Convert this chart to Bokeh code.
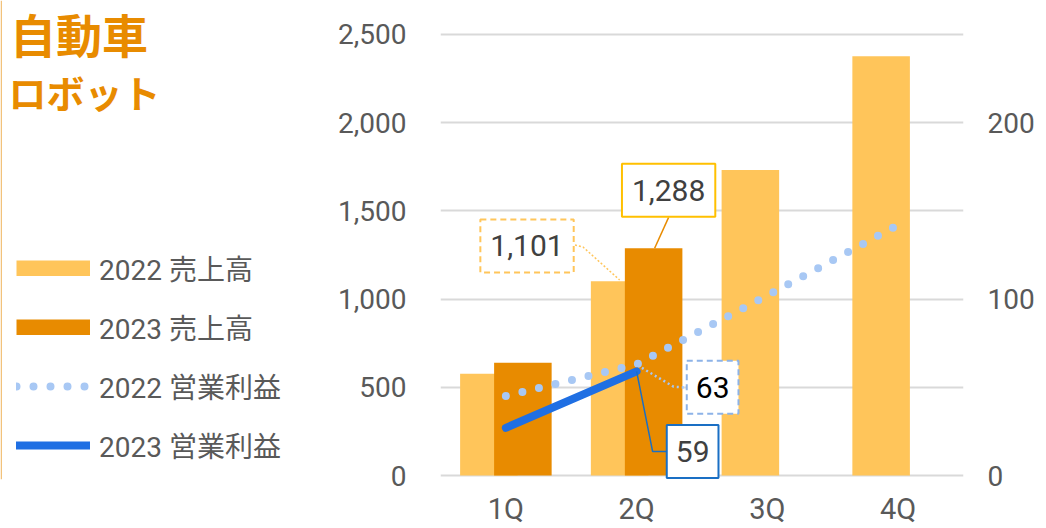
from bokeh.plotting import figure
from bokeh.layouts import row
from bokeh.models import (Range1d, LinearAxis, FixedTicker, Label, Legend, LegendItem,
                          NumeralTickFormatter, Span)
from bokeh.embed import file_html
from bokeh.resources import INLINE

# ---------------- data ----------------
quarters = ["1Q", "2Q", "3Q", "4Q"]
sales_2022 = [577, 1101, 1731, 2376]
sales_2023 = [639, 1288]
op_2022 = [45, 63, 102, 142]
op_2023 = [27, 59]
left_ticks = [0, 500, 1000, 1500, 2000, 2500]
right_ticks = [0, 100, 200]
series_names = ["2022 売上高", "2023 売上高", "2022 営業利益", "2023 営業利益"]
title_lines = ["自動車", "ロボット"]

# ---------------- style ----------------
FONT = "Roboto, 'Noto Sans CJK JP', sans-serif"
CJK = "'Noto Sans CJK JP', sans-serif"
C22 = "#FFC55A"
C23 = "#E88B00"
B22 = "#A8C8F4"
B23 = "#1F6FE3"
GREY = "#595959"
DARK = "#404040"
BAR_W = 0.44
DODGE = 0.13
DOTS = "0 17"
NAN = float("nan")

# scale helpers (pixels -> data units)
PX_X = 523 / 4.0
PX_Y = 442 / 2500.0
PX_Y2 = 442 / 250.0
Y0 = -4 / PX_Y
Y1 = 2500 + 34 / PX_Y
BOTTOM = 48
H = 528

# ---------------- main chart ----------------
p = figure(width=731, height=H, x_range=Range1d(-0.5, 3.5), y_range=Range1d(Y0, Y1),
           output_backend="svg", toolbar_location=None,
           min_border_left=130, min_border_right=78, min_border_top=0, min_border_bottom=BOTTOM)
p.extra_y_ranges = {"op": Range1d(Y0 / 10.0, Y1 / 10.0)}
p.outline_line_color = None
p.xgrid.visible = False
p.ygrid.ticker = FixedTicker(ticks=left_ticks)
p.ygrid.grid_line_color = "#D9D9D9"
p.ygrid.grid_line_width = 2

def off(x, y, dx, dy, sy):
    return x + dx / PX_X, y + dy / sy

xa = p.xaxis[0]
xa.ticker = FixedTicker(ticks=list(range(len(quarters))))
xa.major_label_overrides = {i: q for i, q in enumerate(quarters)}
ya = p.yaxis[0]
ya.ticker = FixedTicker(ticks=left_ticks)
ya.formatter = NumeralTickFormatter(format="0,0")
ra = LinearAxis(y_range_name="op", ticker=FixedTicker(ticks=right_ticks))
p.add_layout(ra, "right")
for ax in (xa, ya, ra):
    ax.axis_line_color = None
    ax.major_tick_line_color = None
    ax.minor_tick_line_color = None
    ax.major_label_text_font = FONT
    ax.major_label_text_color = GREY
    ax.major_label_text_font_size = "28px"
xa.major_label_text_font_size = "29px"
xa.major_label_standoff = 6
ya.major_label_standoff = 28
ra.major_label_standoff = 18

# bars
idx22 = list(range(len(sales_2022)))
idx23 = list(range(len(sales_2023)))
r1 = p.vbar(x=[i - DODGE for i in idx22], top=sales_2022, width=BAR_W,
            fill_color=C22, line_color=None)
r2 = p.vbar(x=[i + DODGE for i in idx23], top=sales_2023, width=BAR_W,
            fill_color=C23, line_color=None)

# leader: 1,288
ax0, ay0 = 1 + DODGE, sales_2023[1]
pts = [off(ax0, ay0, 15, 31, PX_Y), off(ax0, ay0, 1, 0, PX_Y)]
p.line([q[0] for q in pts], [q[1] for q in pts], line_color=C23, line_width=1.5)
# leader: 1,101
bx0, by0 = 1 - DODGE, sales_2022[1]
pts = [off(bx0, by0, -44.6, 36.3, PX_Y), off(bx0, by0, -36.6, 34.3, PX_Y), off(bx0, by0, 0, 1.3, PX_Y)]
p.line([q[0] for q in pts], [q[1] for q in pts], line_color=C22, line_width=1.5, line_dash="2 2")

# operating profit lines
r3 = p.line(x=list(range(len(op_2022))), y=op_2022, y_range_name="op", line_color=B22,
            line_width=8, line_dash=DOTS, line_cap="round")
cx0, cy0 = 1, op_2022[1]
pts = [off(cx0, cy0, 1, -1, PX_Y2), off(cx0, cy0, 37, -22.4, PX_Y2), off(cx0, cy0, 50, -23.4, PX_Y2)]
p.line([q[0] for q in pts], [q[1] for q in pts], y_range_name="op", line_color=B22,
       line_width=2.5, line_dash="2 3")
r4 = p.line(x=list(range(len(op_2023))), y=op_2023, y_range_name="op", line_color=B23,
            line_width=8, line_cap="round")
dx0, dy0 = 1, op_2023[1]
pts = [off(dx0, dy0, 0, 0, PX_Y2), off(dx0, dy0, 16, -80.3, PX_Y2), off(dx0, dy0, 30, -80.3, PX_Y2)]
p.line([q[0] for q in pts], [q[1] for q in pts], y_range_name="op", line_color="#1A6FC4",
       line_width=1.5)

def callout(x, y, txt, xo, yo, border, dash, color, rng="default", pad=(10, 16)):
    lab = Label(x=x, y=y, x_offset=xo, y_offset=yo, text=txt, y_range_name=rng,
                text_align="center", text_baseline="middle", text_font=FONT,
                text_font_size="30px", text_color=color,
                border_line_color=border, border_line_width=2, border_line_dash=dash,
                background_fill_color="white", padding=pad)
    p.add_layout(lab)

callout(ax0, ay0, f"{sales_2023[1]:,}", 15, 58, "#FFC000", "solid", DARK)
callout(bx0, by0, f"{sales_2022[1]:,}", -92.6, 35.3, C22, "6 4", DARK)
callout(cx0, cy0, f"{op_2022[1]}", 76, -23, "#8DB3E8", "6 4", "#000000", "op", (9, 16))
callout(dx0, dy0, f"{op_2023[1]}", 56, -80, "#1A6FC4", "solid", DARK, "op", (9, 16))

# ---------------- left panel: title + legend ----------------
lf = figure(width=310, height=H, x_range=Range1d(0, 310), y_range=Range1d(H - BOTTOM, 0),
            output_backend="svg", toolbar_location=None, x_axis_type=None, y_axis_type=None,
            min_border_left=0, min_border_right=0, min_border_top=0, min_border_bottom=BOTTOM)
lf.outline_line_color = None
lf.grid.visible = False

# legend proxies (no visible marks); bar swatches drawn as thick butt-capped strokes
g1 = lf.line(x=[NAN], y=[NAN], line_color=C22, line_width=16, line_cap="butt")
g2 = lf.line(x=[NAN], y=[NAN], line_color=C23, line_width=16, line_cap="butt")
g3 = lf.line(x=[NAN], y=[NAN], line_color=B22, line_width=8, line_dash=DOTS, line_cap="round")
g4 = lf.line(x=[NAN], y=[NAN], line_color=B23, line_width=8, line_cap="round")

legend = Legend(items=[LegendItem(label=n, renderers=[r]) for n, r in zip(series_names, [g1, g2, g3, g4])],
                location=(16, 14), glyph_width=74, glyph_height=16, label_standoff=9,
                spacing=19, padding=0, margin=0, border_line_color=None,
                background_fill_alpha=0, label_text_font=FONT, label_text_font_size="28px",
                label_text_color=GREY, label_height=40)
lf.add_layout(legend)

lf.add_layout(Label(x=9.5, y=33, text=title_lines[0],
                    text_font=CJK, text_font_size="46px", text_font_style="bold",
                    text_color=C23, text_baseline="middle", text_align="left"))
lf.add_layout(Label(x=8, y=91, text=title_lines[1],
                    text_font=CJK, text_font_size="38px", text_font_style="bold",
                    text_color=C23, text_baseline="middle", text_align="left"))
lf.add_layout(Span(location=0.75, dimension="height", line_color="#F2C27B", line_width=1.5))

layout = row(lf, p)
open("out.html", "w").write(file_html(layout, INLINE))
